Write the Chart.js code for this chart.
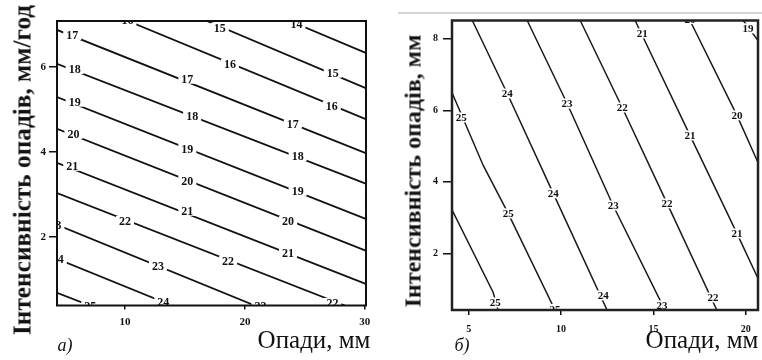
<!DOCTYPE html>
<html>
<head>
<meta charset="utf-8">
<script src="https://cdn.jsdelivr.net/npm/chart.js@4/dist/chart.umd.min.js"></script>
<style>
	body { margin: 0; background: #fff; }
	#wrap { position: relative; width: 762px; height: 360px; overflow: hidden; font-family: "Liberation Serif", serif; color: #111; }
	canvas { position: absolute; top: 0; }
	.txt { position: absolute; white-space: nowrap; transform: translate(-50%, -50%); }
	.ytitle { font-weight: bold; transform: translate(-50%, -50%) rotate(-90deg); }
	.xtitle { font-size: 25px; }
	.tag { font-size: 18px; font-style: italic; }
</style>
</head>
<body>
<div id="wrap">
	<canvas id="chartA" width="380" height="360" style="left:0"></canvas>
	<canvas id="chartB" width="382" height="360" style="left:380px"></canvas>
	<div style="position:absolute; left:398px; top:12px; width:364px; height:2px; background:#d4d4d4"></div>
	<div class="txt ytitle" style="left:22px; top:170px; font-size:25.3px">Інтенсивність опадів, мм/год</div>
	<div class="txt xtitle" style="left:314px; top:340px">Опади, мм</div>
	<div class="txt tag" style="left:65px; top:345px">а)</div>
	<div class="txt ytitle" style="left:413px; top:171px; font-size:24px">Інтенсивність опадів, мм</div>
	<div class="txt xtitle" style="left:702px; top:340px">Опади, мм</div>
	<div class="txt tag" style="left:462px; top:345px">б)</div>
</div>
<script>
// ---- chart а) ----
const aXTicks = [10, 20, 30];
const aYTicks = [2, 4, 6];
const aLevels = [14, 15, 16, 17, 18, 19, 20, 21, 22, 23, 24, 25];
const aLines = [
	[[23.75, 7.08], [30.08, 6.33]],
	[[16.83, 7.08], [30.08, 5.50]],
	[[10.25, 7.08], [30.08, 4.77]],
	[[4.33, 6.87], [30.08, 3.97]],
	[[4.33, 6.07], [30.08, 3.25]],
	[[4.33, 5.29], [30.08, 2.42]],
	[[4.33, 4.54], [30.08, 1.67]],
	[[4.33, 3.74], [30.08, 0.89]],
	[[4.33, 3.03], [28.33, 0.38]],
	[[4.33, 2.28], [20.83, 0.38]],
	[[4.33, 1.48], [13.92, 0.38]],
	[[4.33, 0.68], [7.08, 0.38]]
];
const aLabelText = ['17', '18', '19', '20', '21', '23', '24', '25',
	'16', '15', '14', '17', '16', '16', '15', '17', '18', '18', '19', '19',
	'20', '20', '21', '21', '22', '22', '22', '23', '23', '24'];
const aLabelPos = [[5.6, 6.75], [5.8, 5.95], [5.8, 5.18], [5.7, 4.42], [5.6, 3.67], [4.2, 2.28], [4.4, 1.48], [7.1, 0.36],
	[10.2, 7.1], [17.9, 6.92], [24.3, 7.02], [15.2, 5.72], [18.75, 6.07], [27.25, 5.08], [27.33, 5.86], [24.0, 4.66],
	[15.6, 4.84], [24.4, 3.90], [15.2, 4.07], [24.4, 3.08], [15.2, 3.32], [23.6, 2.37], [15.2, 2.61], [23.6, 1.62],
	[10.0, 2.37], [18.6, 1.43], [27.3, 0.44], [12.75, 1.32], [21.3, 0.36], [13.2, 0.47]];

// ---- chart б) ----
const bXTicks = [5, 10, 15, 20];
const bYTicks = [2, 4, 6, 8];
const bLevels = [25, 25, 24, 23, 22, 21, 20, 19];
const bLines = [
	[[4.12, 6.47], [5.79, 4.46], [7.14, 3.12], [9.68, 0.41]],
	[[4.12, 3.20], [6.33, 0.91], [6.60, 0.41]],
	[[5.20, 8.51], [7.09, 6.47], [9.58, 3.68], [12.50, 0.41]],
	[[8.17, 8.51], [10.33, 6.19], [12.82, 3.34], [15.63, 0.41]],
	[[11.04, 8.51], [13.31, 6.08], [15.74, 3.40], [18.44, 0.41]],
	[[14.01, 8.51], [16.98, 5.30], [19.52, 2.56], [20.66, 1.30]],
	[[16.98, 8.51], [19.52, 5.86], [20.66, 4.54]],
	[[19.86, 8.51], [20.66, 7.95]]
];
const bLabelText = ['25', '24', '23', '22', '21', '20', '19', '20', '21', '24', '25', '23', '22', '21',
	'25', '25', '24', '23', '22'];
const bLabelPos = [[4.6, 5.80], [7.09, 6.47], [10.33, 6.19], [13.31, 6.08], [14.39, 8.15], [16.98, 8.55], [20.12, 8.29],
	[19.52, 5.86], [16.98, 5.30], [9.58, 3.68], [7.14, 3.12], [12.82, 3.34], [15.74, 3.40], [19.52, 2.56],
	[6.44, 0.63], [9.68, 0.45], [12.28, 0.83], [15.47, 0.55], [18.23, 0.77]];

const contourLabels = {
	id: 'contourLabels',
	afterDatasetsDraw(chart, args, opts) {
		const ctx = chart.ctx;
		const area = chart.chartArea;
		const sx = chart.scales.x, sy = chart.scales.y;
		ctx.save();
		ctx.beginPath();
		ctx.rect(area.left, area.top, area.right - area.left, area.bottom - area.top);
		ctx.clip();
		ctx.font = opts.font;
		ctx.textAlign = 'center';
		ctx.textBaseline = 'middle';
		for (let i = 0; i < opts.text.length; i++) {
			let px = sx.getPixelForValue(opts.pos[i][0]);
			let py = sy.getPixelForValue(opts.pos[i][1]);
			let w = ctx.measureText(opts.text[i]).width + opts.gap;
			ctx.fillStyle = '#fff';
			ctx.fillRect(px - w / 2, py - 5, w, 10);
			ctx.fillStyle = '#111';
			ctx.fillText(opts.text[i], px, py + 1);
		}
		ctx.restore();
		// frame round the plot
		ctx.save();
		ctx.strokeStyle = opts.frameColor;
		ctx.lineWidth = opts.frameWidth;
		ctx.strokeRect(area.left, area.top, area.right - area.left, area.bottom - area.top);
		ctx.restore();
	}
};

function MakeChart(id, lines, lineStyle, ranges, xTicks, yTicks, box, labels) {
	return new Chart(document.getElementById(id), {
		type: 'scatter',
		data: {
			datasets: lines.map(pts => ({
				data: pts.map(p => ({ x: p[0], y: p[1] })),
				showLine: true,
				borderColor: lineStyle.color,
				borderWidth: lineStyle.width,
				pointRadius: 0,
				tension: 0
			}))
		},
		options: {
			responsive: false,
			animation: false,
			events: [],
			layout: { padding: { top: box.top, right: box.right, left: 0, bottom: 0 } },
			plugins: {
				legend: { display: false },
				tooltip: { enabled: false },
				contourLabels: labels
			},
			scales: {
				x: {
					type: 'linear', min: ranges[0], max: ranges[1],
					afterBuildTicks: s => { s.ticks = xTicks.map(v => ({ value: v })); },
					afterFit: s => { s.height = box.xh; },
					grid: { drawOnChartArea: false, tickLength: box.xtick, color: '#111', lineWidth: 1.5 },
					border: { display: false },
					ticks: { color: '#111', padding: box.xpad, maxRotation: 0, font: { family: 'Liberation Serif', size: box.fs, weight: 'bold' } }
				},
				y: {
					type: 'linear', min: ranges[2], max: ranges[3],
					afterBuildTicks: s => { s.ticks = yTicks.map(v => ({ value: v })); },
					afterFit: s => { s.width = box.yw; },
					grid: { drawOnChartArea: false, tickLength: box.ytick, color: '#111', lineWidth: 1.5 },
					border: { display: false },
					ticks: { color: '#111', padding: box.ypad, font: { family: 'Liberation Serif', size: box.fs, weight: 'bold' } }
				}
			}
		},
		plugins: [contourLabels]
	});
}

MakeChart('chartA', aLines, { color: '#111', width: 1.8 }, [4.33, 30.1, 0.38, 7.08], aXTicks, aYTicks,
	{ top: 21, right: 14, xh: 54.5, yw: 57, xtick: 4, ytick: 8, xpad: 6, ypad: 3, fs: 11 },
	{ text: aLabelText, pos: aLabelPos, font: 'bold 12px "Liberation Serif"', gap: 6, frameColor: '#111', frameWidth: 2 });

MakeChart('chartB', bLines, { color: '#1a1a1a', width: 1.5 }, [4.10, 20.66, 0.42, 8.51], bXTicks, bYTicks,
	{ top: 20.5, right: 4, xh: 50, yw: 72, xtick: 5, ytick: 9, xpad: 8, ypad: 5, fs: 10 },
	{ text: bLabelText, pos: bLabelPos, font: 'bold 11px "Liberation Serif"', gap: 1, frameColor: '#222', frameWidth: 2.5 });
</script>
</body>
</html>
